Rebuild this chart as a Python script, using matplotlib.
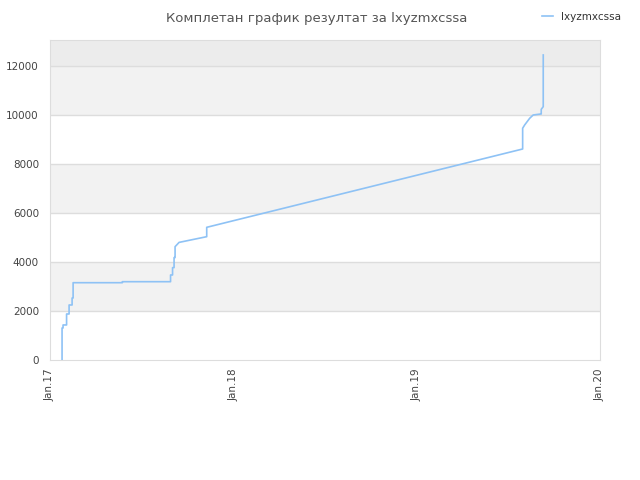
import matplotlib
matplotlib.use("Agg")
import matplotlib.pyplot as plt
import matplotlib.dates as mdates
import numpy as np
import datetime as dt

title = "Комплетан график резултат за lxyzmxcssa"
series_name = "lxyzmxcssa"
start = dt.date(2017, 1, 1)
# day offsets from Jan 1 2017 and cumulative values
days = [24, 24, 26.5, 26.5, 33, 33, 38, 38, 44, 44, 46.4, 46.4, 144.7, 144.7,
        240.3, 240.3, 244.3, 244.3, 247, 247, 249, 249, 257, 312, 312.6,
        941, 941, 945.7, 955.6, 962.2, 977, 978, 978, 982, 982]
values = [0, 1306, 1306, 1430, 1430, 1878, 1878, 2245, 2245, 2530, 2530, 3155, 3155, 3196,
          3196, 3470, 3470, 3770, 3770, 4180, 4180, 4625, 4800, 5033, 5415,
          8612, 9458, 9592, 9865, 10000, 10040, 10040, 10230, 10340, 12449]
x_ticks = ["2017-01-01", "2018-01-01", "2019-01-01", "2020-01-01"]
x_tick_labels = ["Jan.17", "Jan.18", "Jan.19", "Jan.20"]
y_ticks = [0, 2000, 4000, 6000, 8000, 10000, 12000]

dates = [start + dt.timedelta(days=d) for d in days]

fig = plt.figure(figsize=(6.4, 4.8), dpi=100)
ax = fig.add_axes([50/640, 1-360/480, 550/640, 320/480])

ymax = 13060
ax.set_ylim(0, ymax)
xt = [dt.datetime.strptime(s, "%Y-%m-%d") for s in x_ticks]
ax.set_xlim(xt[0], xt[-1])

# bands
band_colors = ["#ffffff", "#f2f2f2", "#ffffff", "#f2f2f2", "#ffffff", "#f2f2f2", "#ececec"]
edges = y_ticks + [ymax]
for i in range(len(edges) - 1):
    ax.axhspan(edges[i], edges[i+1], color=band_colors[i], zorder=0, lw=0)
for y in y_ticks[1:]:
    ax.axhline(y, color="#dddddd", lw=1, zorder=1)

ax.plot(dates, values, color="#8ec2f5", lw=1.2, label=series_name, zorder=3)

ax.set_xticks(xt)
ax.set_xticklabels(x_tick_labels, rotation=90)
ax.set_yticks(y_ticks)
ax.tick_params(axis="both", length=0, labelsize=7.5, colors="#444444")
ax.tick_params(axis="y", pad=8)
ax.tick_params(axis="x", pad=6)
for s in ax.spines.values():
    s.set_color("#dddddd")

fig.text(0.495, 0.975, title, ha="center", va="top", fontsize=9.5, color="#555555")
leg = fig.legend(loc="upper right", bbox_to_anchor=(0.985, 0.995), frameon=False,
                 fontsize=7.5, handlelength=1.0, labelcolor="#333333")

fig.savefig("out.png", dpi=100)
